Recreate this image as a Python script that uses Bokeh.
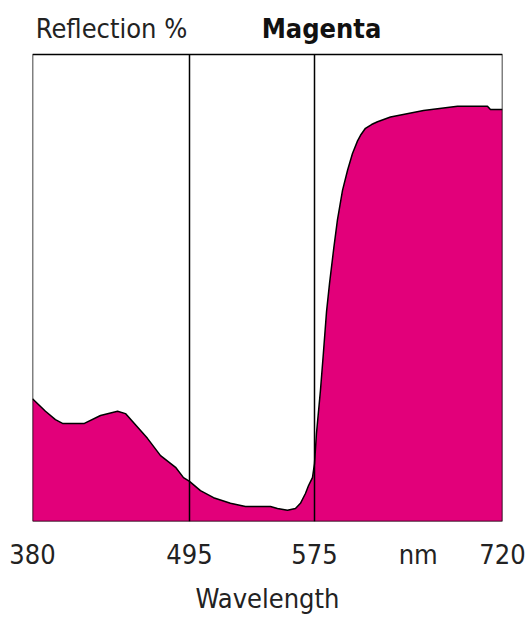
import numpy as np
from bokeh.plotting import figure
from bokeh.models import Range1d, FixedTicker
from bokeh.core.properties import value
from bokeh.embed import file_html
from bokeh.resources import INLINE

# Data: wavelength (nm) and reflection (%)
wavelength = [380, 389.5, 396.8, 402, 418, 429.8, 442.3, 448.1, 464.2, 473.8, 484.8,
              490.6, 495, 502.0, 510.4, 521.2, 530.8, 546.8, 551.3, 557.7, 562.8,
              566.0, 569.2, 571.2, 573.7, 575, 576.5, 579.6, 581.9, 584.3, 586.6,
              589.9, 592.7, 596.6, 600.5, 604.3, 608.2, 610.5, 614.3, 619.0, 623.6, 633.6,
              659.1, 685.3, 708.4, 710.7, 720]
reflection = [26.3, 23.6, 21.8, 21.0, 21.0, 22.7, 23.6, 23.1, 17.8, 14.1, 11.6,
              9.4, 8.6, 6.6, 5.1, 3.9, 3.2, 3.2, 2.8, 2.4, 2.8,
              3.9, 6.0, 7.7, 9.4, 12.4, 18.8, 28.1, 36.2, 45.0, 51.0,
              58.6, 64.6, 70.9, 75.2, 78.8, 81.5, 82.7, 84.2, 85.0, 85.6, 86.6,
              88.0, 88.9, 88.9, 88.2, 88.2]
tick_nm = [380, 495, 575, 720]
tick_labels = ["380", "495", "575", "720"]
unit_label = "nm"
unit_nm = 655
divider_nm = [495, 575]
y_label = "Reflection %"
title = "Magenta"
x_label = "Wavelength"

# Non-uniform axis: each band between ticks has its own width
band_pos = [0, 157, 282, 470]

def pos(w):
    return np.interp(w, tick_nm, band_pos)

FONT = "DejaVu Sans Condensed"
MAGENTA = "#E2007A"
YMAX = 100
YTOP = 111.56  # headroom for the heading text inside the canvas

p = figure(width=527, height=619, output_backend="svg", toolbar_location=None,
           x_range=Range1d(0, 470), y_range=Range1d(0, YTOP),
           min_border_left=32, min_border_right=25, min_border_top=0,
           min_border_bottom=98)
p.grid.visible = False
p.yaxis.visible = False
p.outline_line_color = None
p.background_fill_color = "white"
p.border_fill_color = "white"

x = pos(np.array(wavelength))
p.varea(x=x, y1=0, y2=reflection, fill_color=MAGENTA)
p.line(x=x, y=reflection, line_color="black", line_width=1.5)

# plot box and band dividers
x0, x1 = float(pos(tick_nm[0])), float(pos(tick_nm[-1]))
p.line(x=[x0, x1, x1, x0, x0], y=[0, 0, YMAX, YMAX, 0], line_color="black", line_width=1.5)
for d in divider_nm:
    p.segment(x0=float(pos(d)), y0=0, x1=float(pos(d)), y1=YMAX,
              line_color="black", line_width=1.5)

# heading
p.text(x=[79], y=[105.6], text=[y_label], text_font=value(FONT),
       text_font_size="27px", text_color="#222222",
       text_align="center", text_baseline="middle")
p.text(x=[289], y=[105.6], text=[title], text_font=value(FONT),
       text_font_size="27px", text_font_style="bold", text_color="#111111",
       text_align="center", text_baseline="middle")

ax = p.xaxis[0]
ticks = [float(pos(t)) for t in tick_nm] + [float(pos(unit_nm))]
labels = tick_labels + [unit_label]
ax.ticker = FixedTicker(ticks=ticks)
ax.major_label_overrides = {t: l for t, l in zip(ticks, labels)}
ax.axis_line_color = None
ax.major_tick_line_color = None
ax.minor_tick_line_color = None
ax.major_label_text_font = FONT
ax.major_label_text_font_size = "27px"
ax.major_label_text_color = "#222222"
ax.major_label_standoff = 11
ax.axis_label = x_label
ax.axis_label_text_font = FONT
ax.axis_label_text_font_size = "27px"
ax.axis_label_text_font_style = "normal"
ax.axis_label_text_color = "#222222"
ax.axis_label_standoff = 10

open("out.html", "w").write(file_html(p, INLINE))
